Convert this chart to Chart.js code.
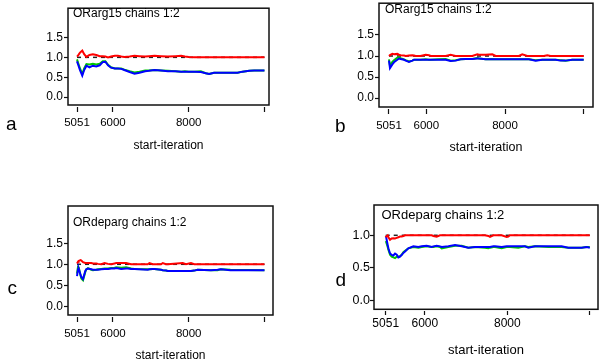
<!DOCTYPE html>
<html>
<head>
<meta charset="utf-8">
<title>BGR convergence plots</title>
<script src="https://cdn.jsdelivr.net/npm/chart.js@4.4.1/dist/chart.umd.min.js"></script>
<style>
  html, body { margin: 0; padding: 0; background: #fff; }
  #page { position: relative; width: 600px; height: 364px; overflow: hidden; font-family: "Liberation Sans", Arial, sans-serif; color: #000; }
  .panel { position: absolute; }
  .panel canvas { display: block; }
  .txt { position: absolute; white-space: nowrap; }
</style>
</head>
<body>
<div id="page"></div>
<script>
// shared axis stuff
const xTicks = [5051, 6000, 8000, 10000];
const xTickLabels = ['5051', '6000', '8000', ''];
const yTicksABC = [0, 0.5, 1.0, 1.5];
const yTicksD = [0, 0.5, 1.0];
const refIter = [5051, 10000];
const refLine = [1.0, 1.0];
const titles = ['ORarg15 chains 1:2', 'ORarg15 chains 1:2', 'ORdeparg chains 1:2', 'ORdeparg chains 1:2'];
const letters = ['a', 'b', 'c', 'd'];
const axisTitle = 'start-iteration';

// panel a
const aIter = [5051, 5080, 5130, 5190, 5240, 5300, 5380, 5470, 5560, 5650, 5730, 5800, 5870, 5950, 6050, 6130, 6220, 6300, 6440, 6570, 6700, 6850, 6950, 7100, 7270, 7450, 7650, 7800, 7900, 8000, 8150, 8320, 8450, 8540, 8670, 8940, 9290, 9420, 9600, 9730, 10000];
const aRed = [1.02, 1.05, 1.12, 1.17, 1.08, 1.01, 1.06, 1.08, 1.06, 1.03, 1.03, 1.02, 1.00, 1.02, 1.04, 1.04, 1.02, 1.01, 1.02, 1.04, 1.03, 1.02, 1.03, 1.04, 1.03, 1.02, 1.03, 1.04, 1.02, 1.01, 1.00, 1.00, 1.00, 1.00, 1.00, 1.00, 1.00, 1.00, 1.00, 1.00, 1.00];
const aGreen = [0.95, 0.86, 0.72, 0.58, 0.72, 0.83, 0.82, 0.84, 0.82, 0.84, 0.90, 0.90, 0.81, 0.75, 0.72, 0.72, 0.72, 0.69, 0.65, 0.62, 0.64, 0.67, 0.67, 0.68, 0.67, 0.66, 0.65, 0.64, 0.65, 0.64, 0.64, 0.65, 0.60, 0.58, 0.61, 0.61, 0.61, 0.64, 0.66, 0.67, 0.67];
const aBlue = [0.90, 0.82, 0.68, 0.54, 0.68, 0.79, 0.75, 0.79, 0.77, 0.80, 0.88, 0.89, 0.80, 0.74, 0.72, 0.72, 0.71, 0.68, 0.63, 0.59, 0.61, 0.65, 0.66, 0.68, 0.67, 0.65, 0.65, 0.64, 0.64, 0.64, 0.64, 0.63, 0.60, 0.58, 0.61, 0.61, 0.61, 0.64, 0.66, 0.67, 0.67];

// panel b
const bIter = [5051, 5076, 5136, 5178, 5263, 5305, 5347, 5432, 5475, 5559, 5644, 5686, 5729, 5850, 5983, 6067, 6110, 6300, 6491, 6618, 6745, 6872, 7000, 7169, 7296, 7338, 7507, 7677, 7762, 8016, 8354, 8439, 8566, 8608, 8778, 8947, 8990, 9074, 9159, 9286, 9413, 9540, 9710, 10000];
const bRed = [1.00, 1.02, 1.05, 1.04, 1.05, 1.03, 1.02, 1.01, 1.00, 1.01, 1.02, 1.01, 1.00, 1.00, 1.03, 1.02, 1.00, 1.00, 1.00, 1.03, 1.00, 1.00, 1.00, 1.00, 1.04, 1.03, 1.03, 1.04, 1.00, 1.00, 1.00, 1.04, 1.00, 1.00, 1.00, 1.00, 1.00, 1.02, 1.00, 1.00, 1.00, 1.00, 1.00, 1.00];
const bGreen = [0.92, 0.77, 0.86, 0.90, 0.96, 0.97, 0.95, 0.92, 0.90, 0.87, 0.89, 0.91, 0.91, 0.91, 0.92, 0.91, 0.91, 0.92, 0.93, 0.89, 0.90, 0.92, 0.93, 0.93, 0.95, 0.94, 0.92, 0.93, 0.92, 0.92, 0.92, 0.92, 0.92, 0.92, 0.90, 0.91, 0.91, 0.91, 0.91, 0.91, 0.90, 0.89, 0.91, 0.91];
const bBlue = [0.89, 0.71, 0.80, 0.85, 0.91, 0.94, 0.93, 0.91, 0.89, 0.86, 0.89, 0.91, 0.91, 0.91, 0.91, 0.91, 0.91, 0.91, 0.91, 0.88, 0.89, 0.92, 0.93, 0.93, 0.94, 0.94, 0.92, 0.92, 0.92, 0.92, 0.92, 0.92, 0.92, 0.92, 0.89, 0.91, 0.91, 0.91, 0.91, 0.91, 0.89, 0.89, 0.91, 0.91];

// panel c
const cIter = [5051, 5077, 5095, 5147, 5165, 5209, 5270, 5297, 5340, 5428, 5472, 5560, 5604, 5691, 5779, 5870, 5954, 6042, 6086, 6217, 6349, 6393, 6481, 6568, 6919, 6963, 7051, 7094, 7270, 7314, 7401, 7445, 7840, 7928, 8059, 8147, 8234, 8585, 8761, 8848, 9100, 10000];
const cRed = [1.02, 1.06, 1.08, 1.10, 1.09, 1.05, 1.03, 1.03, 1.03, 1.03, 1.02, 1.02, 1.01, 1.00, 1.03, 1.01, 1.00, 1.02, 1.03, 1.03, 1.03, 1.02, 1.00, 1.00, 1.00, 1.03, 1.00, 1.00, 1.00, 1.03, 1.00, 1.00, 1.03, 1.00, 1.03, 1.00, 1.00, 1.00, 1.00, 1.00, 1.00, 1.00];
const cGreen = [0.78, 0.94, 0.93, 0.72, 0.66, 0.62, 0.82, 0.88, 0.91, 0.87, 0.86, 0.87, 0.88, 0.89, 0.90, 0.90, 0.91, 0.92, 0.93, 0.92, 0.93, 0.92, 0.90, 0.89, 0.88, 0.88, 0.89, 0.89, 0.87, 0.86, 0.85, 0.84, 0.84, 0.84, 0.84, 0.85, 0.87, 0.86, 0.86, 0.88, 0.87, 0.86];
const cBlue = [0.72, 0.88, 0.90, 0.74, 0.70, 0.65, 0.84, 0.88, 0.90, 0.88, 0.87, 0.87, 0.87, 0.88, 0.89, 0.89, 0.90, 0.90, 0.91, 0.89, 0.90, 0.90, 0.89, 0.89, 0.87, 0.88, 0.89, 0.89, 0.87, 0.86, 0.85, 0.84, 0.84, 0.84, 0.84, 0.85, 0.87, 0.86, 0.87, 0.88, 0.86, 0.86];

// panel d
const dIter = [5051, 5059, 5099, 5116, 5156, 5196, 5237, 5277, 5318, 5358, 5398, 5439, 5479, 5520, 5600, 5722, 5843, 5924, 6045, 6166, 6206, 6287, 6368, 6408, 6570, 6732, 6893, 7055, 7216, 7459, 7540, 7580, 7661, 7701, 7863, 7984, 8024, 8065, 8267, 8428, 8509, 8671, 8994, 9317, 9479, 9802, 9923, 10000];
const dRed = [0.97, 0.98, 1.00, 0.97, 0.93, 0.95, 0.955, 0.95, 0.96, 0.97, 0.98, 0.98, 0.99, 1.00, 1.00, 1.00, 1.00, 1.00, 1.00, 1.00, 0.99, 0.98, 1.00, 1.00, 1.00, 1.00, 1.00, 1.00, 1.00, 1.00, 0.99, 0.975, 1.00, 1.00, 1.00, 0.975, 0.98, 1.00, 1.00, 1.00, 1.00, 1.00, 1.00, 1.00, 1.00, 1.00, 1.00, 1.00];
const dGreen = [0.91, 0.90, 0.82, 0.78, 0.70, 0.67, 0.66, 0.65, 0.67, 0.67, 0.68, 0.70, 0.74, 0.76, 0.80, 0.82, 0.81, 0.82, 0.83, 0.82, 0.82, 0.83, 0.82, 0.80, 0.82, 0.84, 0.84, 0.81, 0.82, 0.81, 0.80, 0.81, 0.82, 0.82, 0.80, 0.82, 0.82, 0.82, 0.81, 0.83, 0.82, 0.83, 0.82, 0.82, 0.81, 0.81, 0.82, 0.82];
const dBlue = [0.99, 0.98, 0.85, 0.80, 0.72, 0.70, 0.69, 0.72, 0.70, 0.66, 0.67, 0.70, 0.73, 0.75, 0.80, 0.83, 0.82, 0.83, 0.84, 0.82, 0.83, 0.84, 0.83, 0.82, 0.83, 0.85, 0.83, 0.81, 0.82, 0.82, 0.82, 0.82, 0.83, 0.83, 0.82, 0.83, 0.83, 0.83, 0.83, 0.83, 0.81, 0.83, 0.83, 0.83, 0.81, 0.81, 0.82, 0.81];

// where each panel sits (page px); area = plot box inside the canvas
const panels = [
  { iter: aIter, red: aRed, green: aGreen, blue: aBlue, yTicks: yTicksABC,
    cx: 0, cy: 0, cw: 300, ch: 182, area: { l: 68, t: 2, r: 269, b: 105 }, hx: 48,
    xMin: 4813, xMax: 10120, yMin: -0.201, yMax: 2.239,
    tickFont: 11.5, yFont: 12, axFont: 12, xPad: 4, tickLen: 7, tickDash: [0, 2, 5, 20], yPad: 1,
    titleFont: 12, titleX: 73, titleY: 6.5, letterX: 6, letterY: 114 },
  { iter: bIter, red: bRed, green: bGreen, blue: bBlue, yTicks: yTicksABC,
    cx: 300, cy: -5, cw: 300, ch: 187, area: { l: 79, t: 3, r: 293, b: 112 }, hx: 48,
    xMin: 4797, xMax: 10237, yMin: -0.214, yMax: 2.257,
    tickFont: 11.5, yFont: 12, axFont: 12.5, xPad: 5, tickLen: 7, tickDash: [0, 2, 5, 20], yPad: 1,
    titleFont: 12, titleX: 385, titleY: 2.5, letterX: 335, letterY: 115.6 },
  { iter: cIter, red: cRed, green: cGreen, blue: cBlue, yTicks: yTicksABC,
    cx: 0, cy: 182, cw: 300, ch: 182, area: { l: 68, t: 24, r: 273, b: 133 }, hx: 47.5,
    xMin: 4813, xMax: 10225, yMin: -0.207, yMax: 2.388,
    tickFont: 11.5, yFont: 12, axFont: 12, xPad: 5, tickLen: 7, tickDash: [0, 2, 5, 20], yPad: 1,
    titleFont: 12, titleX: 73, titleY: 216, letterX: 7.5, letterY: 277.6 },
  { iter: dIter, red: dRed, green: dGreen, blue: dBlue, yTicks: yTicksD,
    cx: 300, cy: 182, cw: 300, ch: 182, area: { l: 74, t: 23, r: 298, b: 127.3 }, hx: 48.8,
    xMin: 4767, xMax: 10199, yMin: -0.138, yMax: 1.466,
    tickFont: 12, yFont: 12.5, axFont: 13, xPad: 1, tickLen: 6, tickDash: [0, 2, 4, 20], yPad: 0,
    titleFont: 13, titleX: 381.5, titleY: 208.3, letterX: 335.4, letterY: 270 }
];

const boxPlugin = {
  id: 'plotBox',
  afterDraw(chart) {
    const { ctx, chartArea: a } = chart;
    ctx.save();
    ctx.strokeStyle = '#111';
    ctx.lineWidth = 1.5;
    ctx.strokeRect(a.left, a.top, a.right - a.left, a.bottom - a.top);
    ctx.restore();
  }
};

function pts(xs, ys) {
  return xs.map((x, i) => ({ x: x, y: ys[i] }));
}

function line(label, xs, ys, color, width, dash) {
  return {
    label: label,
    data: pts(xs, ys),
    borderColor: color,
    backgroundColor: color,
    borderWidth: width,
    borderDash: dash || [],
    pointRadius: 0,
    tension: 0,
    fill: false
  };
}

const page = document.getElementById('page');

panels.forEach(function (p, k) {
  const wrap = document.createElement('div');
  wrap.className = 'panel';
  wrap.style.left = p.cx + 'px';
  wrap.style.top = p.cy + 'px';
  const cv = document.createElement('canvas');
  cv.width = p.cw;
  cv.height = p.ch;
  wrap.appendChild(cv);
  page.appendChild(wrap);

  const t = document.createElement('div');
  t.className = 'txt';
  t.textContent = titles[k];
  t.style.left = p.titleX + 'px';
  t.style.top = p.titleY + 'px';
  t.style.fontSize = p.titleFont + 'px';
  t.style.lineHeight = p.titleFont + 'px';
  page.appendChild(t);

  const l = document.createElement('div');
  l.className = 'txt';
  l.textContent = letters[k];
  l.style.left = p.letterX + 'px';
  l.style.top = p.letterY + 'px';
  l.style.fontSize = '19px';
  l.style.lineHeight = '19px';
  page.appendChild(l);

  const a = p.area;
  new Chart(cv.getContext('2d'), {
    type: 'line',
    data: {
      datasets: [
        line('R', p.iter, p.red, '#ff0000', 2),
        line('within', p.iter, p.blue, '#0000ff', 2),
        line('pooled', p.iter, p.green, '#00c800', 2),
        line('ref', refIter, refLine, '#222', 1.5, [4, 4])
      ]
    },
    options: {
      responsive: false,
      animation: false,
      events: [],
      layout: {
        autoPadding: false,
        padding: { left: 0, top: a.t, right: p.cw - a.r, bottom: p.ch - a.b - p.hx }
      },
      plugins: { legend: { display: false }, tooltip: { enabled: false }, title: { display: false } },
      scales: {
        x: {
          type: 'linear',
          min: p.xMin,
          max: p.xMax,
          afterBuildTicks: s => { s.ticks = xTicks.map(v => ({ value: v })); },
          afterFit: s => { s.height = p.hx; },
          ticks: {
            autoSkip: false,
            maxRotation: 0,
            padding: p.xPad,
            color: '#000',
            font: { family: '"Liberation Sans", Arial, sans-serif', size: p.tickFont },
            callback: (v, i) => xTickLabels[i]
          },
          grid: { drawOnChartArea: false, drawTicks: true, tickLength: p.tickLen, tickColor: '#111', tickWidth: 1.2, tickBorderDash: p.tickDash },
          border: { display: false },
          title: {
            display: true,
            text: axisTitle,
            color: '#000',
            padding: { top: 0, bottom: 0 },
            font: { family: '"Liberation Sans", Arial, sans-serif', size: p.axFont }
          }
        },
        y: {
          type: 'linear',
          min: p.yMin,
          max: p.yMax,
          afterBuildTicks: s => { s.ticks = p.yTicks.map(v => ({ value: v })); },
          afterFit: s => { s.width = a.l; },
          ticks: {
            autoSkip: false,
            padding: p.yPad,
            color: '#000',
            font: { family: '"Liberation Sans", Arial, sans-serif', size: p.yFont },
            callback: v => Number(v).toFixed(1)
          },
          grid: { drawOnChartArea: false, drawTicks: true, tickLength: 4, tickColor: '#111', tickWidth: 1.2 },
          border: { display: false }
        }
      }
    },
    plugins: [boxPlugin]
  });
});
</script>
</body>
</html>
